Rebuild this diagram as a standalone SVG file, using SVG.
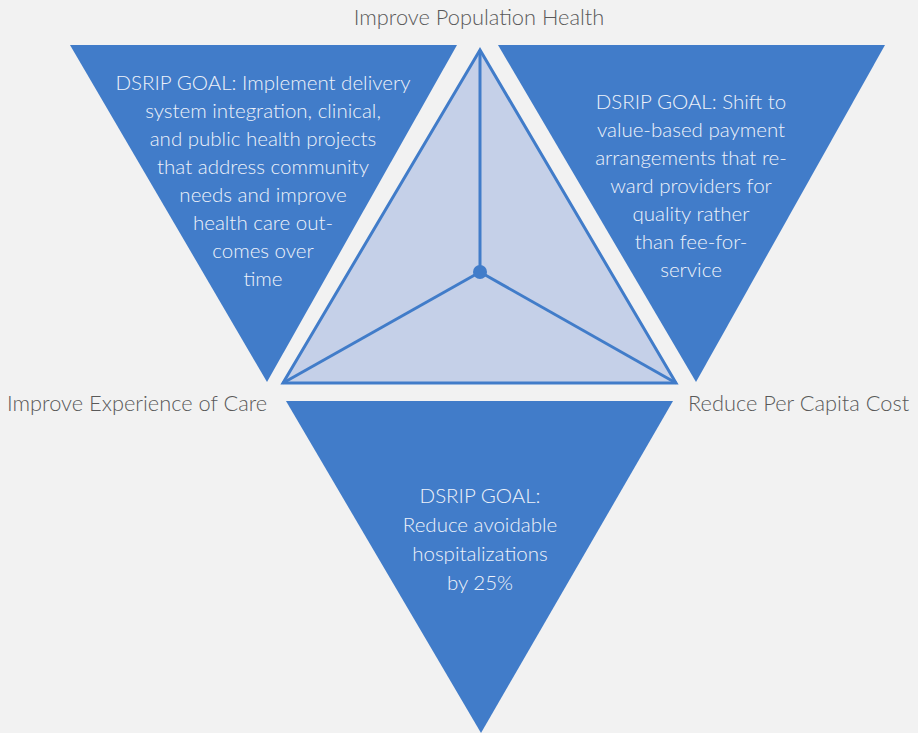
<svg xmlns="http://www.w3.org/2000/svg" width="918" height="733" viewBox="0 0 918 733">
<style>
.goal{fill:#417cc9}
.gt{font-family:Lato,"Open Sans",sans-serif;font-weight:300;font-size:20.5px;fill:#eef2fa;text-anchor:middle}
.lbl{font-family:Lato,"Open Sans",sans-serif;font-weight:300;font-size:21.8px;fill:#595959}
.ln{stroke:#417cc9;stroke-width:3;fill:none}
</style>
<rect width="918" height="733" fill="#f2f2f2"/>
<g id="goal-left">
<polygon class="goal" points="70,45 457,45 267,382"/>
<text class="gt"><tspan x="263" y="90">DSRIP GOAL: Implement delivery</tspan><tspan x="263" y="118">system integration, clinical,</tspan><tspan x="263" y="146">and public health projects</tspan><tspan x="263" y="174">that address community</tspan><tspan x="263" y="202">needs and improve</tspan><tspan x="263" y="230">health care out-</tspan><tspan x="263" y="258">comes over</tspan><tspan x="263" y="286">time</tspan></text>
</g>
<g id="goal-right">
<polygon class="goal" points="498,45 885,45 696,382"/>
<text class="gt"><tspan x="691" y="109">DSRIP GOAL: Shift to</tspan><tspan x="691" y="137">value-based payment</tspan><tspan x="691" y="165">arrangements that re-</tspan><tspan x="691" y="193">ward providers for</tspan><tspan x="691" y="221">quality rather</tspan><tspan x="691" y="249">than fee-for-</tspan><tspan x="691" y="277">service</tspan></text>
</g>
<g id="goal-bottom">
<polygon class="goal" points="286,401 673,401 481,733"/>
<text class="gt"><tspan x="480" y="503">DSRIP GOAL:</tspan><tspan x="480" y="532">Reduce avoidable</tspan><tspan x="480" y="561">hospitalizations</tspan><tspan x="480" y="590">by 25%</tspan></text>
</g>
<g id="center-triangle">
<polygon points="480,50 283,383 676,383" fill="#c5d0e8" stroke="#417cc9" stroke-width="3" stroke-linejoin="miter"/>
</g>
<g id="connectors">
<line class="ln" x1="480" y1="272" x2="480" y2="50"/>
<line class="ln" x1="480" y1="272" x2="283" y2="383"/>
<line class="ln" x1="480" y1="272" x2="676" y2="383"/>
</g>
<g id="center-point">
<circle cx="480" cy="272" r="7" fill="#417cc9"/>
</g>
<g id="labels">
<text class="lbl" x="479" y="25" text-anchor="middle">Improve Population Health</text>
<text class="lbl" x="7" y="411">Improve Experience of Care</text>
<text class="lbl" x="688" y="411">Reduce Per Capita Cost</text>
</g>
</svg>
